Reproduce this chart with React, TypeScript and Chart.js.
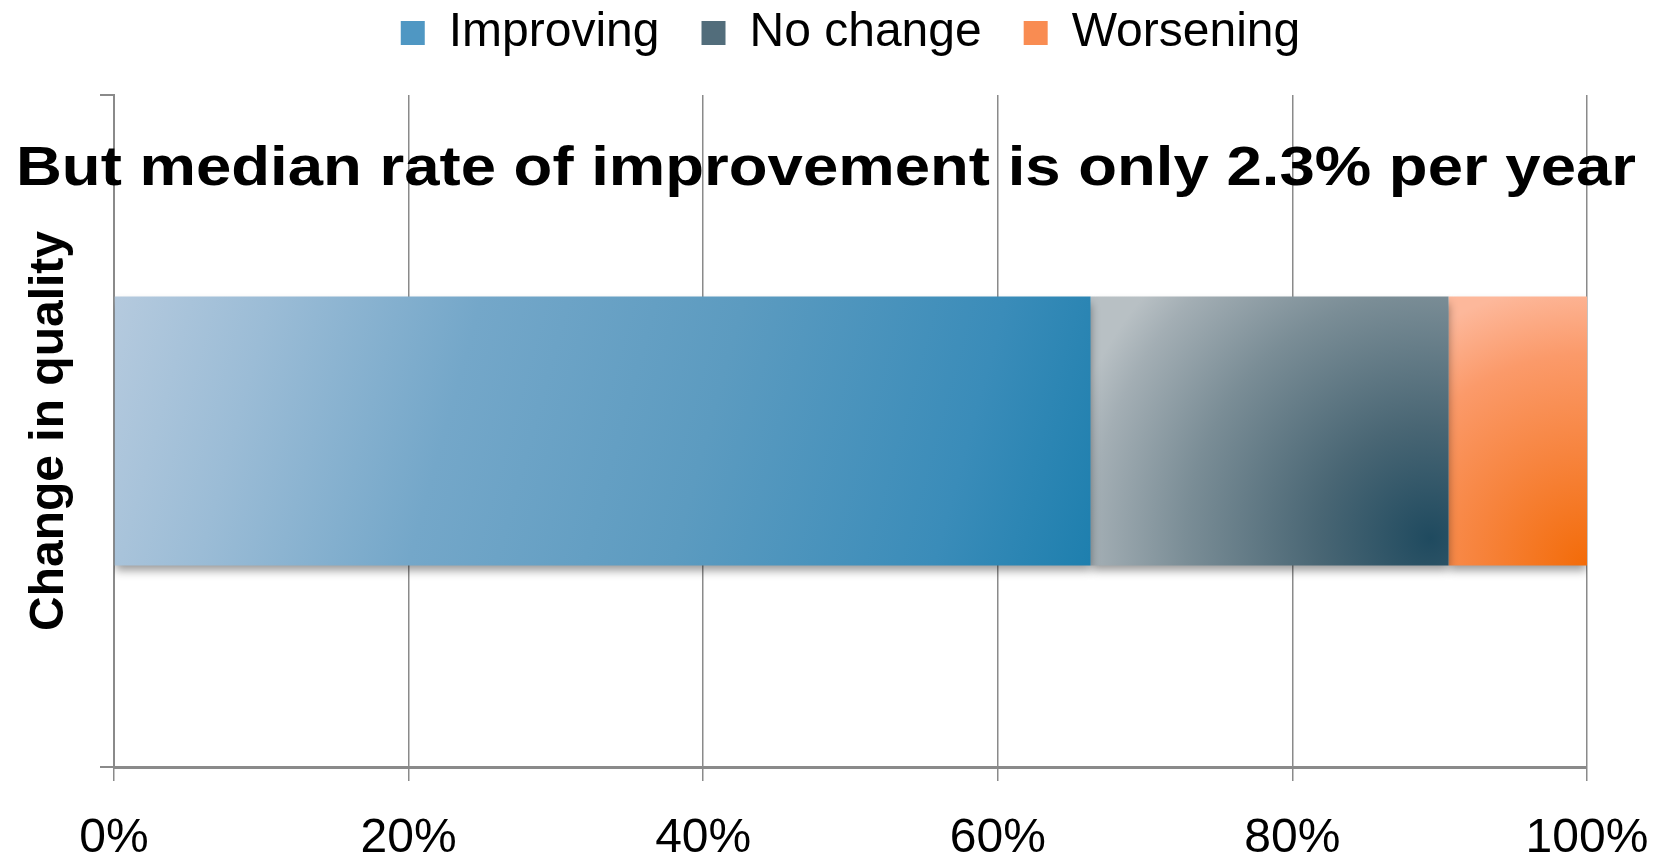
import React, { useEffect, useRef } from 'react';
import { Chart, registerables } from 'chart.js';

Chart.register(...registerables);

const FONT = "'Liberation Sans', Arial, Helvetica, sans-serif";

const categories = [''];
const seriesNames = ['Improving', 'No change', 'Worsening'];
const improving = [66.3];
const noChange = [24.3];
const worsening = [9.4];
const xTickValues = [0, 20, 40, 60, 80, 100];
const yAxisTitle = 'Change in quality';
const headline = 'But median rate of improvement is only 2.3% per year';

const seriesData = [improving, noChange, worsening];
const legendColors = ['#4f97c3', '#526d7b', '#f98c52'];

type Kind = 'improving' | 'noChange' | 'worsening';
const kinds: Kind[] = ['improving', 'noChange', 'worsening'];

function makeFill(seriesIndex: number) {
  const kind = kinds[seriesIndex];
  const solid = legendColors[seriesIndex];
  return (ctx: any) => {
    if (ctx.type !== 'data') return solid;
    const chart = ctx.chart;
    const area = chart.chartArea;
    const xs = chart.scales.x;
    const ys = chart.scales.y;
    if (!area || !xs || !ys) return solid;
    const i = ctx.dataIndex;
    let start = 0;
    for (let k = 0; k < seriesIndex; k++) start += seriesData[k][i];
    const val = seriesData[seriesIndex][i];
    const x0 = xs.getPixelForValue(start);
    const x1 = xs.getPixelForValue(start + val);
    const yc = ys.getPixelForValue(i);
    const half = ((area.bottom - area.top) / categories.length) * 0.4 / 2;
    const y0 = yc - half;
    const y1 = yc + half;
    const w = x1 - x0;
    const h = y1 - y0;
    const c = chart.ctx as CanvasRenderingContext2D;
    if (!isFinite(x0) || !isFinite(x1) || w <= 0) return solid;
    if (kind === 'improving') {
      const g = c.createLinearGradient(x0, y0, x1, y1);
      g.addColorStop(0, '#b5cade');
      g.addColorStop(0.15, '#9bbcd6');
      g.addColorStop(0.35, '#74a7c9');
      g.addColorStop(0.6, '#5c9bc0');
      g.addColorStop(0.85, '#3a8cb9');
      g.addColorStop(1, '#1e7fae');
      return g;
    }
    if (kind === 'noChange') {
      const cx = x0 + 0.95 * w;
      const cy = y0 + 0.9 * h;
      const r = Math.max(w, h) * 1.05;
      const g = c.createRadialGradient(cx, cy, 0, cx, cy, r);
      g.addColorStop(0, '#1f4a5f');
      g.addColorStop(0.3, '#496674');
      g.addColorStop(0.65, '#7a8d96');
      g.addColorStop(0.9, '#a3aeb4');
      g.addColorStop(1, '#b8c0c4');
      return g;
    }
    const cx = x1;
    const cy = y1;
    const r = 1.05 * h;
    const g = c.createRadialGradient(cx, cy, 0, cx, cy, r);
    g.addColorStop(0, '#f36b08');
    g.addColorStop(0.4, '#f7843e');
    g.addColorStop(0.75, '#fb9a6a');
    g.addColorStop(1, '#fdb89b');
    return g;
  };
}

const shadowPlugin = {
  id: 'barShadow',
  beforeDatasetsDraw(chart: any) {
    const c = chart.ctx;
    c.save();
    c.shadowColor = 'rgba(0,0,0,0.4)';
    c.shadowBlur = 9;
    c.shadowOffsetY = 6;
  },
  afterDatasetsDraw(chart: any) {
    chart.ctx.restore();
  },
};

const headlinePlugin = {
  id: 'headline',
  afterDraw(chart: any) {
    const c = chart.ctx as CanvasRenderingContext2D;
    c.save();
    c.font = `bold 56px ${FONT}`;
    c.fillStyle = '#000';
    c.textBaseline = 'alphabetic';
    c.textAlign = 'left';
    const w = c.measureText(headline).width;
    const sx = 1620 / w;
    c.translate(16, chart.chartArea.top + 90);
    c.scale(sx, 1);
    c.fillText(headline, 0, 0);
    c.restore();
  },
};

export default function App() {
  const ref = useRef<HTMLCanvasElement>(null);
  useEffect(() => {
    if (!ref.current) return;
    Chart.defaults.font.family = FONT;
    const chart = new Chart(ref.current, {
      type: 'bar',
      data: {
        labels: categories,
        datasets: seriesNames.map((name, si) => ({
          label: name,
          data: seriesData[si],
          backgroundColor: makeFill(si) as any,
          borderWidth: 0,
          categoryPercentage: 0.8,
          barPercentage: 0.5,
        })),
      },
      options: {
        indexAxis: 'y',
        responsive: false,
        animation: false,
        devicePixelRatio: 1,
        layout: { padding: { top: -33, right: 0, bottom: 0, left: 0 } },
        plugins: {
          legend: {
            display: true,
            position: 'top',
            fullSize: false,
            align: 'center',
            labels: {
              boxWidth: 24,
              boxHeight: 24,
              padding: 42,
              color: '#000',
              font: { size: 48, family: FONT },
              generateLabels: (chart: any) =>
                seriesNames.map((n, i) => ({
                  text: n,
                  fillStyle: legendColors[i],
                  strokeStyle: legendColors[i],
                  lineWidth: 0,
                  hidden: !chart.isDatasetVisible(i),
                  datasetIndex: i,
                  fontColor: '#000',
                })),
            },
          },
          title: {
            display: true,
            text: '',
            position: 'top',
            weight: 500,
            fullSize: false,
            font: { size: 10 },
            padding: { top: 0, bottom: 16 },
          },
          tooltip: { enabled: false },
        },
        scales: {
          x: {
            type: 'linear',
            stacked: true,
            min: 0,
            max: 100,
            afterBuildTicks: (s: any) => {
              s.ticks = xTickValues.map((v) => ({ value: v }));
            },
            afterFit: (s: any) => {
              s.height = 91;
              s.paddingRight = 70;
              s.paddingLeft = 0;
            },
            ticks: {
              callback: (v: any) => `${v}%`,
              color: '#000',
              font: { size: 48, family: FONT },
              padding: 29,
              maxRotation: 0,
              autoSkip: false,
            },
            grid: {
              color: '#8a8a8a',
              lineWidth: 1.5,
              tickLength: 14,
              drawTicks: true,
            },
            border: { display: true, color: '#8a8a8a', width: 3 },
          },
          y: {
            type: 'category',
            stacked: true,
            afterFit: (s: any) => {
              s.width = 114;
            },
            ticks: { display: false },
            grid: {
              offset: true,
              drawOnChartArea: false,
              drawTicks: true,
              tickLength: 14,
              color: '#8a8a8a',
              lineWidth: 2,
            },
            border: { display: true, color: '#8a8a8a', width: 2 },
            title: {
              display: true,
              text: yAxisTitle,
              color: '#000',
              font: { size: 48, weight: 'bold', family: FONT },
              padding: { top: 21, bottom: 0 },
            },
          },
        },
      },
      plugins: [shadowPlugin, headlinePlugin],
    } as any);
    return () => chart.destroy();
  }, []);
  return (
    <div style={{ position: 'absolute', left: 0, top: 0, width: 1657, height: 858, background: '#fff' }}>
      <canvas ref={ref} width={1657} height={858} style={{ display: 'block' }} />
    </div>
  );
}
